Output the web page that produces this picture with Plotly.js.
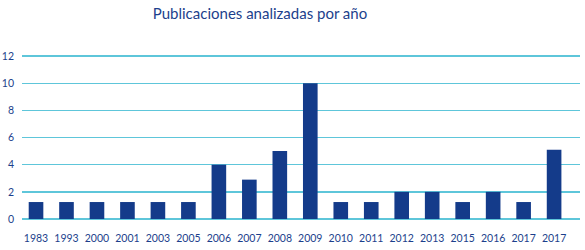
<!DOCTYPE html>
<html>
<head>
<meta charset="utf-8">
<script src="https://cdn.plot.ly/plotly-3.0.1.min.js"></script>
<style>html,body{margin:0;padding:0;background:#fff}#chart{width:585px;height:250px}</style>
</head>
<body>
<div id="chart"></div>
<script>
const years = ["1983","1993","2000","2001","2003","2005","2006","2007","2008","2009","2010","2011","2012","2013","2015","2016","2017","2017"];
const publicaciones = [1.25,1.25,1.25,1.25,1.25,1.25,4,2.9,5,10,1.25,1.25,2,2,1.25,2,1.25,5.1];
const yTicks = [0,2,4,6,8,10,12];

const positions = years.map((_, i) => i);
const textColor = "#1c3f8c";

Plotly.newPlot("chart", [{
  type: "bar",
  x: positions,
  y: publicaciones,
  marker: {color: "#143b8a"},
  width: 0.48,
  hoverinfo: "y"
}], {
  width: 585, height: 250,
  margin: {l: 22, r: 5, t: 52, b: 31},
  paper_bgcolor: "#fff", plot_bgcolor: "#fff",
  font: {family: "Lato, 'Open Sans', sans-serif", color: textColor, size: 11},
  title: {text: "Publicaciones analizadas por año", font: {size: 15, color: textColor, family: "Lato, 'Open Sans', sans-serif"},
          x: 260/585, xanchor: "center", xref: "container", y: 0.945, yanchor: "middle", yref: "container"},
  xaxis: {
    tickmode: "array", tickvals: positions, ticktext: years,
    range: [-0.46, 17.85], showgrid: false, zeroline: false, showline: false,
    ticks: "", tickfont: {size: 10.5, color: textColor}, ticklabelstandoff: 11
  },
  yaxis: {
    tickmode: "array", tickvals: yTicks, range: [0, 12.3],
    showgrid: true, gridcolor: "#5ec6da", gridwidth: 1.3,
    zeroline: true, zerolinecolor: "#5ec6da", zerolinewidth: 1.3,
    showline: false, ticks: "", tickfont: {size: 10.5, color: textColor}, ticklabelstandoff: 7
  },
  showlegend: false
}, {displayModeBar: false, staticPlot: true});
</script>
</body>
</html>
